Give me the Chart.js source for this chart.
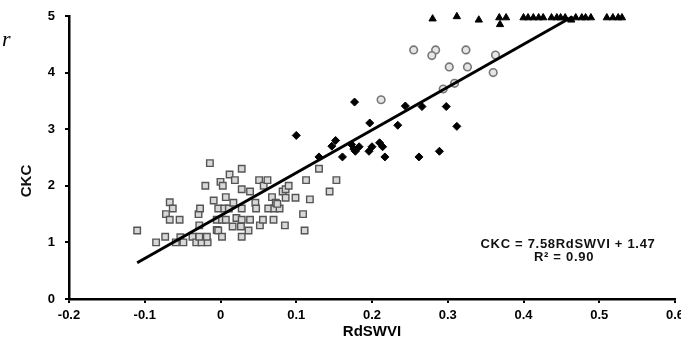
<!DOCTYPE html>
<html>
<head>
<meta charset="utf-8">
<script src="https://cdn.jsdelivr.net/npm/chart.js@4"></script>
<style>
  body { margin: 0; background: #fff; }
  canvas { display: block; }
</style>
</head>
<body>
<canvas id="chart" width="681" height="347"></canvas>
<script>
// values
const squareX = [-0.110, -0.085, -0.073, -0.067, -0.063, -0.072, -0.067, -0.054, -0.059, -0.053, -0.049, -0.037,
  -0.032, -0.025, -0.017, -0.028, -0.018, -0.028, -0.029, -0.027, -0.020, -0.014, -0.009, -0.005, -0.003, -0.005,
  0.002, 0.007, -0.003, 0.005, 0.011, 0.002, 0.000, 0.003, 0.007, 0.012, 0.017, 0.019, 0.021, 0.028, 0.016, 0.027,
  0.028, 0.028, 0.028, 0.028, 0.037, 0.039, 0.039, 0.046, 0.047, 0.051, 0.052, 0.057, 0.056, 0.062, 0.063, 0.071,
  0.078, 0.068, 0.070, 0.073, 0.082, 0.086, 0.090, 0.086, 0.085, 0.099, 0.109, 0.111, 0.113, 0.118, 0.130, 0.144,
  0.153, 0.075];
const squareY = [1.21, 1.00, 1.10, 1.71, 1.60, 1.50, 1.40, 1.40, 1.00, 1.09, 1.00, 1.10,
  1.00, 1.00, 1.00, 1.10, 1.10, 1.30, 1.50, 1.60, 2.00, 2.40, 1.74, 1.22, 1.21, 1.40,
  1.40, 1.40, 1.60, 1.60, 1.60, 1.10, 2.07, 2.00, 1.80, 2.20, 1.70, 2.10, 1.43, 1.40, 1.28, 1.28,
  2.30, 1.94, 1.60, 1.10, 1.21, 1.40, 1.90, 1.70, 1.60, 2.10, 1.30, 2.00, 1.40, 2.10, 1.60, 1.60,
  1.60, 1.80, 1.40, 1.70, 1.90, 1.94, 2.00, 1.79, 1.30, 1.79, 1.50, 1.21, 2.10, 1.76, 2.30, 1.90,
  2.10, 1.68];

const diamondX = [0.100, 0.177, 0.130, 0.147, 0.152, 0.161, 0.173, 0.176, 0.178, 0.183, 0.197, 0.196,
  0.200, 0.210, 0.214, 0.217, 0.234, 0.244, 0.262, 0.266, 0.289, 0.298, 0.312];
const diamondY = [2.89, 3.48, 2.51, 2.70, 2.80, 2.51, 2.73, 2.65, 2.61, 2.69, 3.11, 2.61,
  2.69, 2.76, 2.69, 2.51, 3.07, 3.41, 2.51, 3.40, 2.61, 3.40, 3.05];

const circleX = [0.212, 0.255, 0.284, 0.279, 0.324, 0.302, 0.326, 0.363, 0.360, 0.294, 0.309];
const circleY = [3.52, 4.40, 4.40, 4.30, 4.40, 4.10, 4.10, 4.31, 4.00, 3.71, 3.81];

const triangleX = [0.280, 0.312, 0.341, 0.368, 0.377, 0.369, 0.400, 0.406, 0.413, 0.420, 0.426, 0.437,
  0.444, 0.449, 0.455, 0.463, 0.469, 0.477, 0.482, 0.489, 0.510, 0.518, 0.525, 0.530];
const triangleY = [4.95, 4.99, 4.93, 4.97, 4.97, 4.85, 4.97, 4.97, 4.97, 4.97, 4.97, 4.97,
  4.97, 4.97, 4.97, 4.93, 4.97, 4.97, 4.97, 4.97, 4.97, 4.97, 4.97, 4.97];

const fitX = [-0.11, 0.465];
const fitY = [0.64, 4.99];

const xTitle = 'RdSWVI';
const yTitle = 'CKC';
const eqLines = ['CKC = 7.58RdSWVI + 1.47', 'R\u00b2 = 0.90'];

const pts = (xs, ys) => xs.map((x, i) => ({ x, y: ys[i] }));

Chart.defaults.font.family = '"Liberation Sans", Arial, sans-serif';
Chart.defaults.color = '#000';

const extraText = {
  id: 'extraText',
  afterDraw(chart) {
    const ctx = chart.ctx;
    ctx.save();
    ctx.fillStyle = '#111';
    ctx.textAlign = 'center';
    ctx.textBaseline = 'middle';
    ctx.font = 'bold 13px "Liberation Sans", Arial, sans-serif';
    ctx.letterSpacing = '0.7px';
    ctx.fillText(eqLines[0], 568, 244);
    ctx.fillText(eqLines[1], 564, 257);
    ctx.letterSpacing = '0px';
    // y title sits below the middle of the axis in the original
    ctx.font = 'bold 15px "Liberation Sans", Arial, sans-serif';
    ctx.translate(27, 181);
    ctx.rotate(-Math.PI / 2);
    ctx.fillText(yTitle, 0, 0);
    ctx.restore();
    // cropped letter at the top-left corner
    ctx.save();
    ctx.font = 'italic 22px "Liberation Serif", serif';
    ctx.fillStyle = '#000';
    ctx.textBaseline = 'alphabetic';
    ctx.fillText('r', 2, 46);
    ctx.restore();
  }
};

const noPad = s => { s.paddingLeft = 0; s.paddingRight = 0; s.paddingTop = 0; s.paddingBottom = 0; };

new Chart(document.getElementById('chart'), {
  type: 'scatter',
  data: {
    datasets: [
      {
        type: 'line', data: pts(fitX, fitY), borderColor: '#000', borderWidth: 3,
        pointRadius: 0, fill: false, tension: 0
      },
      {
        data: pts(triangleX, triangleY), pointStyle: 'triangle', pointRadius: 4.2,
        backgroundColor: '#000', borderColor: '#000', borderWidth: 1, clip: false
      },
      {
        data: pts(diamondX, diamondY), pointStyle: 'rectRot', pointRadius: 4,
        backgroundColor: '#000', borderColor: '#000', borderWidth: 1
      },
      {
        data: pts(circleX, circleY), pointStyle: 'circle', pointRadius: 3.8,
        backgroundColor: '#e6e6e6', borderColor: '#777', borderWidth: 1.6
      },
      {
        data: pts(squareX, squareY), pointStyle: 'rect', pointRadius: 4.6,
        backgroundColor: '#d8d8d8', borderColor: '#555', borderWidth: 1.4
      }
    ]
  },
  options: {
    responsive: false,
    animation: false,
    layout: { padding: { left: 0, top: 16, right: 4, bottom: 0 } },
    plugins: { legend: { display: false }, tooltip: { enabled: false } },
    scales: {
      x: {
        type: 'linear', min: -0.2, max: 0.6,
        border: { display: true, color: '#000', width: 2.5 },
        grid: { drawOnChartArea: false, drawTicks: true, tickLength: 4, color: '#000', lineWidth: 2 },
        ticks: {
          stepSize: 0.1, padding: 5, maxRotation: 0, autoSkip: false,
          font: { size: 13, weight: 'bold' },
          callback: v => String(Math.round(v * 10) / 10)
        },
        title: { display: true, text: xTitle, font: { size: 15, weight: 'bold' }, padding: { top: 0, bottom: 6 } },
        afterFit: s => { s.height = 48; noPad(s); }
      },
      y: {
        type: 'linear', min: 0, max: 5,
        border: { display: true, color: '#000', width: 2.5 },
        grid: { drawOnChartArea: false, drawTicks: true, tickLength: 4, color: '#000', lineWidth: 2 },
        ticks: { stepSize: 1, padding: 10, font: { size: 13, weight: 'bold' } },
        afterFit: s => { s.width = 69; noPad(s); }
      }
    }
  },
  plugins: [extraText]
});
</script>
</body>
</html>
